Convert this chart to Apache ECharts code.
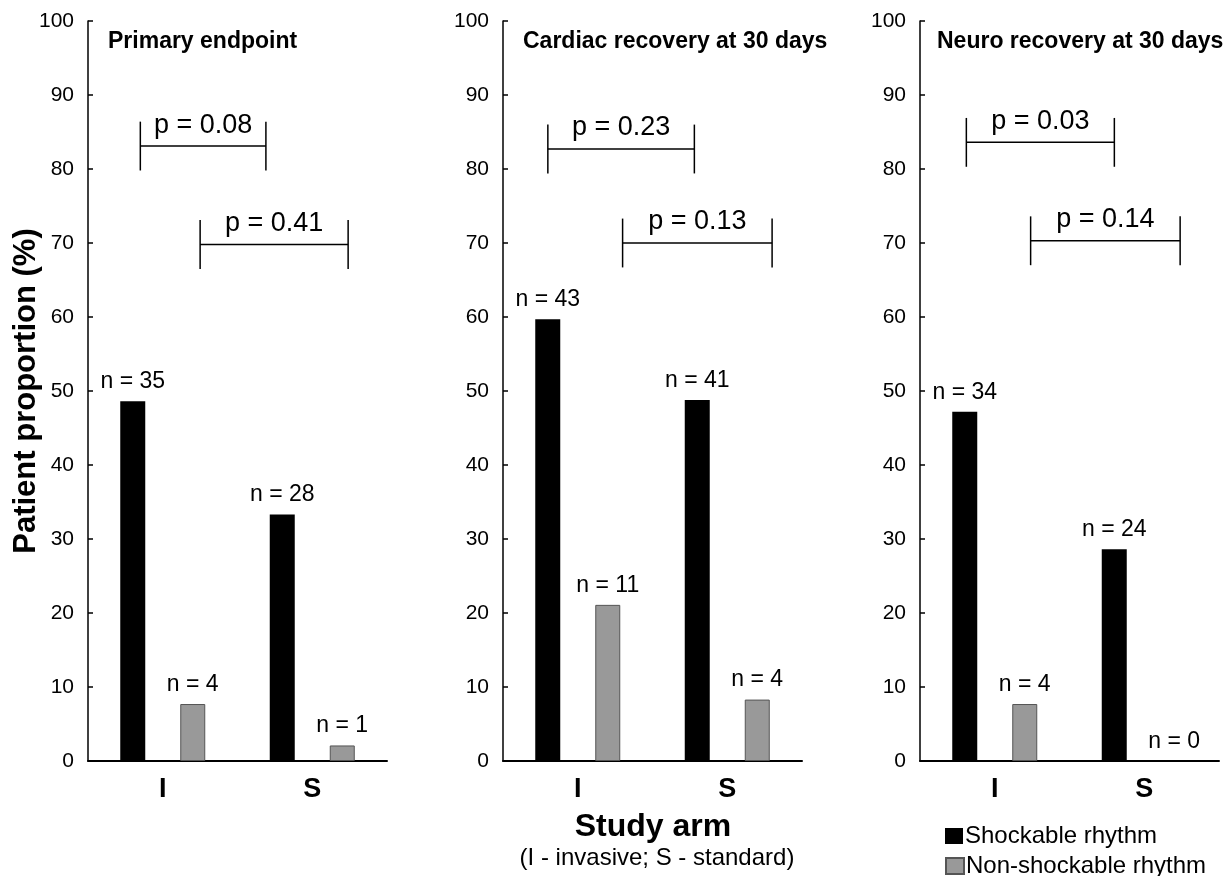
<!DOCTYPE html>
<html>
<head>
<meta charset="utf-8">
<script src="https://cdn.jsdelivr.net/npm/echarts@6/dist/echarts.min.js"></script>
<style>
html,body{margin:0;padding:0;background:#fff;}
#chart{width:1232px;height:876px;}
</style>
</head>
<body>
<div id="chart"></div>
<script>
// ---- data ----
const categories = ['I', 'S'];
const panelTitles = ['Primary endpoint', 'Cardiac recovery at 30 days', 'Neuro recovery at 30 days'];
const seriesNames = ['Shockable rhythm', 'Non-shockable rhythm'];
const shockable = [[48.6, 33.3], [59.7, 48.8], [47.2, 28.6]];
const nonShockable = [[7.7, 2.1], [21.1, 8.3], [7.7, 0]];
const nShockable = [[35, 28], [43, 41], [34, 24]];
const nNonShockable = [[4, 1], [11, 4], [4, 0]];
const pValues = [['0.08', '0.41'], ['0.23', '0.13'], ['0.03', '0.14']];
// bracket spans on a 0..2 category-width scale, and bracket heights (%)
const bracketSpans = [[[0.35, 1.19], [0.75, 1.74]], [[0.30, 1.28], [0.80, 1.80]], [[0.31, 1.30], [0.74, 1.74]]];
const bracketLevels = [[83.1, 69.8], [82.7, 70.0], [83.6, 70.3]];
const yTicks = [0, 10, 20, 30, 40, 50, 60, 70, 80, 90, 100];

const FONT = '"Liberation Sans", Arial, Helvetica, sans-serif';
const gridLefts = [88, 503, 920];
const gridWidth = 299;

const chart = echarts.init(document.getElementById('chart'), null, {renderer: 'canvas'});

const grids = [], xAxes = [], yAxes = [], series = [], titles = [];
for (let i = 0; i < 3; i++) {
  grids.push({left: gridLefts[i], top: 21, width: gridWidth, height: 740, containLabel: false});
  titles.push({
    text: panelTitles[i], left: gridLefts[i] + (i === 2 ? 17 : 20), top: 30,
    padding: 0,
    textStyle: {fontFamily: FONT, fontSize: 23, fontWeight: 'bold', color: '#000'}
  });
}
for (let i = 0; i < 3; i++) {
  xAxes.push({
    type: 'category', gridIndex: i, data: categories,
    axisLine: {lineStyle: {color: '#000', width: 2}},
    axisTick: {show: false},
    axisLabel: {fontFamily: FONT, fontSize: 27, fontWeight: 'bold', color: '#000', margin: 15}
  });
}
for (let i = 0; i < 3; i++) {
  xAxes.push({type: 'value', gridIndex: i, min: 0, max: 2, show: false});
}
for (let i = 0; i < 3; i++) {
  yAxes.push({
    type: 'value', gridIndex: i, min: yTicks[0], max: yTicks[yTicks.length - 1], interval: 10,
    name: i === 0 ? 'Patient proportion (%)' : '',
    nameLocation: 'middle', nameGap: 46, nameRotate: 90, nameMoveOverlap: false,
    nameTextStyle: {fontFamily: FONT, fontSize: 31, fontWeight: 'bold', color: '#000'},
    axisLine: {show: true, lineStyle: {color: '#000', width: 1.5}},
    axisTick: {show: true, inside: true, length: 5, lineStyle: {color: '#000', width: 1.5}},
    splitLine: {show: false},
    axisLabel: {fontFamily: FONT, fontSize: 21, color: '#000', margin: 14}
  });
}
for (let i = 0; i < 3; i++) {
  series.push({
    name: seriesNames[0], type: 'bar', xAxisIndex: i, yAxisIndex: i,
    data: shockable[i], barWidth: 25, barGap: '140%',
    itemStyle: {color: '#000'},
    label: {show: true, position: 'top', distance: 8, fontFamily: FONT, fontSize: 23, color: '#000',
      formatter: p => 'n = ' + nShockable[i][p.dataIndex]}
  });
  series.push({
    name: seriesNames[1], type: 'bar', xAxisIndex: i, yAxisIndex: i,
    data: nonShockable[i].map(v => v === 0 ? {value: v, itemStyle: {borderWidth: 0, color: 'rgba(0,0,0,0)'}} : v),
    barWidth: 25, barGap: '140%',
    itemStyle: {color: '#999999', borderColor: '#555', borderWidth: 1},
    label: {show: true, position: 'top', distance: 8, fontFamily: FONT, fontSize: 23, color: '#000',
      formatter: p => 'n = ' + nNonShockable[i][p.dataIndex]}
  });
  series.push({
    type: 'custom', xAxisIndex: 3 + i, yAxisIndex: i, silent: true,
    data: bracketSpans[i].map((s, k) => [s[0], s[1], bracketLevels[i][k]]),
    encode: {x: [0, 1], y: 2},
    renderItem: function (params, api) {
      const x1 = api.value(0), x2 = api.value(1), y = api.value(2);
      const pL = api.coord([x1, y]);
      const pR = api.coord([x2, y]);
      const top = api.coord([x1, y + 3.3])[1];
      const bot = api.coord([x1, y - 3.3])[1];
      const ls = {stroke: '#000', lineWidth: 1.5};
      return {
        type: 'group',
        children: [
          {type: 'line', shape: {x1: pL[0], y1: pL[1], x2: pR[0], y2: pR[1]}, style: ls},
          {type: 'line', shape: {x1: pL[0], y1: top, x2: pL[0], y2: bot}, style: ls},
          {type: 'line', shape: {x1: pR[0], y1: top, x2: pR[0], y2: bot}, style: ls},
          {type: 'text', style: {
            text: 'p = ' + pValues[i][params.dataIndex],
            x: (pL[0] + pR[0]) / 2, y: pL[1] - 21,
            align: 'center', verticalAlign: 'middle',
            fontFamily: FONT, fontSize: 27, fill: '#000'
          }}
        ]
      };
    }
  });
}

const legendCommon = {
  orient: 'vertical', left: 945, padding: 0,
  itemWidth: 18, itemHeight: 16, icon: 'rect', selectedMode: false,
  textStyle: {fontFamily: FONT, fontSize: 24, color: '#000', padding: [0, 0, 0, -3]}
};

chart.setOption({
  animation: false,
  backgroundColor: '#fff',
  title: titles,
  grid: grids,
  xAxis: xAxes,
  yAxis: yAxes,
  legend: [
    Object.assign({}, legendCommon, {data: [seriesNames[0]], top: 824}),
    Object.assign({}, legendCommon, {data: [seriesNames[1]], top: 854})
  ],
  graphic: [
    {type: 'text', x: 653, y: 827, style: {text: 'Study arm', align: 'center', verticalAlign: 'middle',
      fontFamily: FONT, fontSize: 32, fontWeight: 'bold', fill: '#000'}},
    {type: 'text', x: 657, y: 858, style: {text: '(I - invasive; S - standard)', align: 'center', verticalAlign: 'middle',
      fontFamily: FONT, fontSize: 24, fill: '#000'}}
  ],
  series: series
});
</script>
</body>
</html>
